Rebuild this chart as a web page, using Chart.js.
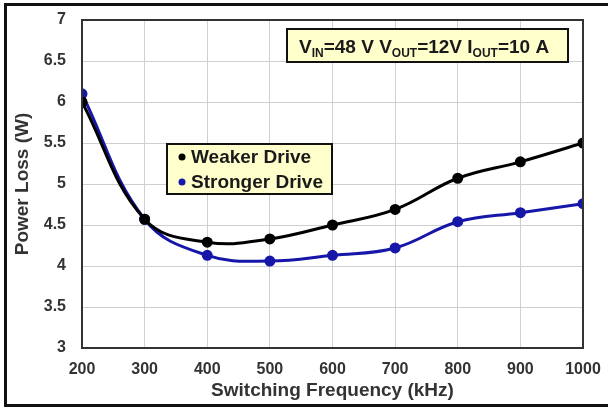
<!DOCTYPE html>
<html>
<head>
<meta charset="utf-8">
<script src="https://cdn.jsdelivr.net/npm/chart.js@4/dist/chart.umd.min.js"></script>
<style>
    html, body { margin: 0; padding: 0; background: #fff; }
    #wrap { width: 608px; height: 408px; position: relative; }
</style>
</head>
<body>
<div id="wrap"><canvas id="lossChart" width="608" height="408"></canvas></div>
<script>
// switching frequency (kHz) and measured power loss (W)
const freqs = [200, 300, 400, 500, 600, 700, 800, 900, 1000];
const weakerLoss = [6.0, 4.57, 4.29, 4.33, 4.50, 4.69, 5.07, 5.27, 5.50];
const strongerLoss = [6.1, 4.57, 4.13, 4.06, 4.13, 4.22, 4.54, 4.65, 4.76];
const seriesNames = ['Weaker Drive', 'Stronger Drive'];
const seriesColors = ['#000000', '#1616a8'];
const yTicks = [3, 3.5, 4, 4.5, 5, 5.5, 6, 6.5, 7];

// operating point label: [main, subscript, rest]
const condParts = [['V', 'IN', '=48 V '], ['V', 'OUT', '=12V '], ['I', 'OUT', '=10 A']];

const boldFont = size => ({ family: 'Arial, "Liberation Sans", sans-serif', size: size, weight: 'bold' });

function toPoints(vals) {
    return freqs.map((f, i) => ({ x: f, y: vals[i] }));
}

// frame, plot border, condition box and legend box
const decorations = {
    id: 'decorations',
    beforeDraw(chart) {
        const ctx = chart.ctx;
        ctx.save();
        ctx.fillStyle = '#fff';
        ctx.fillRect(0, 0, chart.width, chart.height);
        ctx.restore();
    },
    afterDatasetsDraw(chart) {
        const ctx = chart.ctx;
        const a = chart.chartArea;
        ctx.save();
        ctx.strokeStyle = '#333';
        ctx.lineWidth = 2;
        ctx.strokeRect(a.left, a.top, a.right - a.left, a.bottom - a.top);
        ctx.restore();
    },
    afterDraw(chart) {
        const ctx = chart.ctx;
        const fam = 'Arial, "Liberation Sans", sans-serif';
        ctx.save();

        // outer frame (right side runs off the image)
        ctx.strokeStyle = '#111';
        ctx.lineWidth = 3;
        ctx.beginPath();
        ctx.moveTo(chart.width + 5, 4.5);
        ctx.lineTo(5.5, 4.5);
        ctx.lineTo(5.5, 405.5);
        ctx.lineTo(chart.width + 5, 405.5);
        ctx.stroke();

        // operating conditions box
        ctx.fillStyle = '#ffffcc';
        ctx.fillRect(287, 29, 281, 33);
        ctx.strokeStyle = '#111';
        ctx.lineWidth = 2;
        ctx.strokeRect(287, 29, 281, 33);
        ctx.fillStyle = '#1a1a1a';
        ctx.textBaseline = 'alphabetic';
        let x = 299;
        const base = 53;
        condParts.forEach(p => {
            ctx.font = 'bold 19px ' + fam;
            ctx.fillText(p[0], x, base);
            x += ctx.measureText(p[0]).width;
            ctx.font = 'bold 12px ' + fam;
            ctx.fillText(p[1], x, base + 4);
            x += ctx.measureText(p[1]).width;
            ctx.font = 'bold 19px ' + fam;
            ctx.fillText(p[2], x, base);
            x += ctx.measureText(p[2]).width;
        });

        // legend box
        ctx.fillStyle = '#ffffcc';
        ctx.fillRect(167, 144, 165, 50);
        ctx.strokeStyle = '#111';
        ctx.strokeRect(167, 144, 165, 50);
        ctx.font = 'bold 19px ' + fam;
        ctx.textBaseline = 'middle';
        seriesNames.forEach((name, i) => {
            const cy = 157 + i * 25;
            ctx.fillStyle = seriesColors[i];
            ctx.beginPath();
            ctx.arc(182, cy, 3.5, 0, Math.PI * 2);
            ctx.fill();
            ctx.fillStyle = '#1a1a1a';
            ctx.fillText(name, 191, cy + 1);
        });
        ctx.restore();
    }
};

const lossCtx = document.getElementById('lossChart').getContext('2d');
const lossChart = new Chart(lossCtx, {
    type: 'line',
    data: {
        datasets: [weakerLoss, strongerLoss].map((vals, i) => ({
            label: seriesNames[i],
            data: toPoints(vals),
            borderColor: seriesColors[i],
            backgroundColor: seriesColors[i],
            borderWidth: 3,
            pointRadius: 4,
            pointHoverRadius: 4,
            tension: 0.4,
            fill: false
        }))
    },
    options: {
        responsive: false,
        animation: false,
        devicePixelRatio: 1,
        layout: { padding: { top: 20, right: 25, left: 0, bottom: 0 } },
        plugins: {
            legend: { display: false },
            tooltip: { enabled: false }
        },
        scales: {
            x: {
                type: 'linear',
                min: 200,
                max: 1000,
                afterBuildTicks: scale => { scale.ticks = freqs.map(v => ({ value: v })); },
                afterFit: scale => {
                    scale.height = 60;
                    scale.paddingLeft = 0;
                    scale.paddingRight = 0;
                },
                grid: { color: '#cfcfcf', lineWidth: 1, drawTicks: false },
                border: { display: false },
                ticks: {
                    color: '#333', font: boldFont(16), padding: 12, maxRotation: 0,
                    callback: v => String(v)
                },
                title: {
                    display: true,
                    text: 'Switching Frequency (kHz)',
                    color: '#333',
                    font: boldFont(19),
                    padding: { top: 0, bottom: 6 }
                }
            },
            y: {
                min: 3,
                max: 7,
                afterBuildTicks: scale => { scale.ticks = yTicks.map(v => ({ value: v })); },
                afterFit: scale => {
                    scale.width = 82;
                    scale.paddingTop = 0;
                    scale.paddingBottom = 0;
                },
                grid: { color: '#cfcfcf', lineWidth: 1, drawTicks: false },
                border: { display: false },
                ticks: {
                    color: '#333', font: boldFont(16), padding: 16,
                    callback: v => String(v)
                },
                title: {
                    display: true,
                    text: 'Power Loss (W)',
                    color: '#333',
                    font: boldFont(19),
                    padding: { top: 11, bottom: 0 }
                }
            }
        }
    },
    plugins: [decorations]
});
</script>
</body>
</html>
